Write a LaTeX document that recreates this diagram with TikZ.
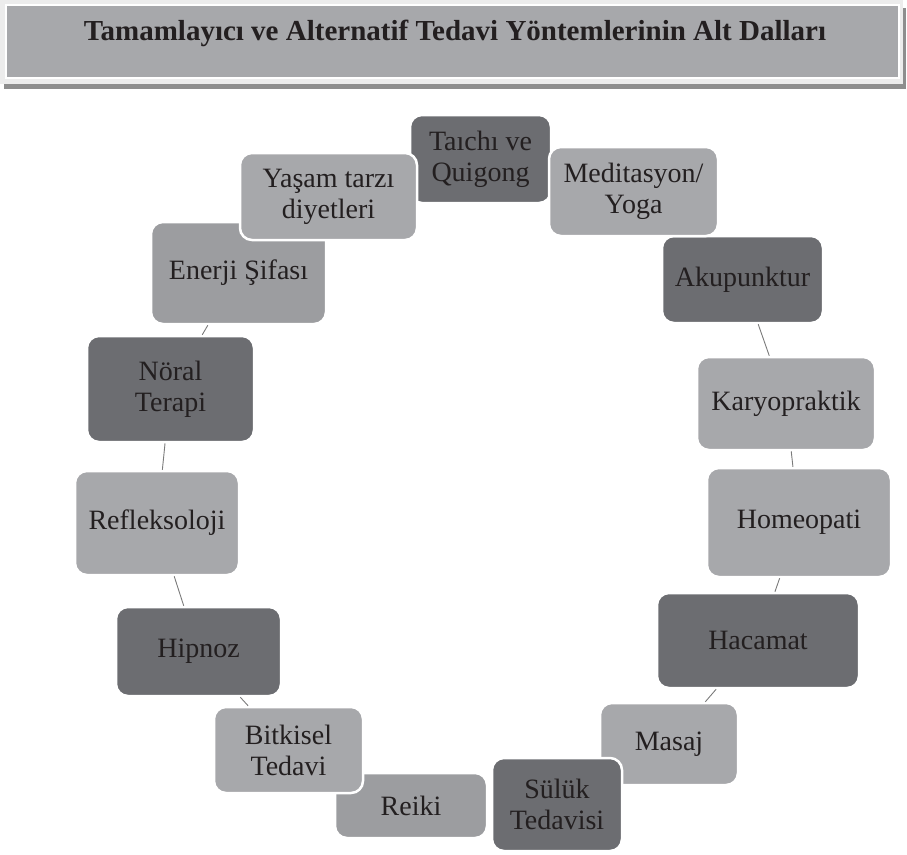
\documentclass[tikz,border=0pt]{standalone}
\usepackage{fontspec}
\setmainfont{Liberation Serif}

\definecolor{darkgr}{HTML}{6C6D71}
\definecolor{lightgr}{HTML}{A7A8AB}
\definecolor{midgr}{HTML}{9C9DA0}
\definecolor{framegr}{HTML}{ECECEC}
\definecolor{shadowgr}{HTML}{8E8E8E}
\definecolor{inkgr}{HTML}{231F20}
\definecolor{linkgr}{HTML}{7A7A7A}

\begin{document}
\begin{tikzpicture}[x=1pt,y=-1pt]
\tikzstyle{box}=[rectangle, rounded corners=12pt, draw=white, line width=2.5pt, inner sep=0pt, align=center, text=inkgr, font=\fontsize{28}{31}\selectfont]
\tikzstyle{dark}=[box, fill=darkgr]
\tikzstyle{light}=[box, fill=lightgr]
\tikzstyle{mid}=[box, fill=midgr]
\tikzstyle{link}=[draw=linkgr, line width=0.9pt]

\useasboundingbox (0,0) rectangle (907,854);

% title band
\fill[shadowgr] (4,8) rectangle (906,89);
\fill[framegr] (0,0) rectangle (903,84);
\node[rectangle, fill=lightgr, draw=white, line width=1.2pt, minimum width=893pt, minimum height=73pt] (titlebox) at (452.5,41.5) {};
\node[anchor=base, text=inkgr, font=\bfseries\fontsize{29}{31}\selectfont] (title) at (455,40) {Tamamlayıcı ve Alternatif Tedavi Yöntemlerinin Alt Dalları};

% boxes round the ring
\node[dark, minimum width=141pt, minimum height=88pt] (taichi) at (480.5,159) {Taıchı ve\\Quigong};
\node[dark, minimum width=161pt, minimum height=87pt] (akup) at (742.5,279.5) {Akupunktur};
\node[light, minimum width=178pt, minimum height=93pt] (karyo) at (786,403.5) {Karyopraktik};
\node[light, minimum width=184pt, minimum height=109pt] (homeo) at (799,522.5) {Homeopati};
\node[dark, minimum width=202pt, minimum height=95pt] (hacamat) at (758,640.5) {Hacamat};
\node[light, minimum width=138pt, minimum height=82pt] (masaj) at (669,744) {Masaj};
\node[dark, minimum width=130pt, minimum height=93pt] (suluk) at (557,804.5) {Sülük\\Tedavisi};
\node[mid, minimum width=152pt, minimum height=65pt] (reiki) at (411,805.5) {Reiki};
\node[light, minimum width=149pt, minimum height=86pt] (bitki) at (288.5,750) {Bitkisel\\Tedavi};
\node[dark, minimum width=165pt, minimum height=89pt] (hipnoz) at (198.5,651.5) {Hipnoz};
\node[light, minimum width=164pt, minimum height=104pt] (refleks) at (157,523) {Refleksoloji};
\node[dark, minimum width=167pt, minimum height=106pt] (noral) at (170.5,389) {Nöral\\Terapi};
\node[mid, minimum width=175pt, minimum height=102pt] (enerji) at (238.5,273) {Enerji Şifası};
\node[light, minimum width=177pt, minimum height=87pt] (yasam) at (328.5,196.5) {Yaşam tarzı\\diyetleri};
\node[light, minimum width=169pt, minimum height=89pt] (medit) at (633.5,191.5) {Meditasyon/\\Yoga};

\path
(enerji) edge[link] (noral)
(noral) edge[link] (refleks)
(refleks) edge[link] (hipnoz)
(hipnoz) edge[link] (bitki)
(akup) edge[link] (karyo)
(karyo) edge[link] (homeo)
(homeo) edge[link] (hacamat)
(hacamat) edge[link] (masaj);
\end{tikzpicture}
\end{document}
